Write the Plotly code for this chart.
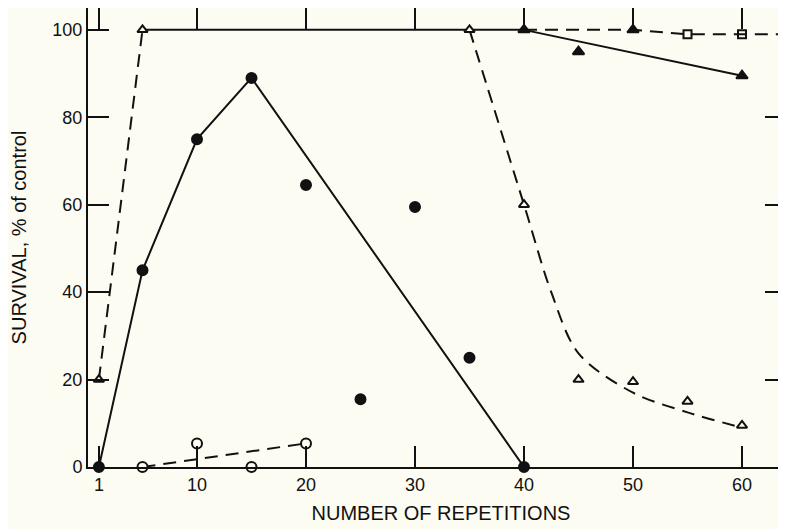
import plotly.graph_objects as go

BG = "#FDFCF3"
INK = "#111111"

# ---- data ----
circ_x = [1, 5, 10, 15, 20, 25, 30, 35, 40]
circ_y = [0, 45, 75, 89, 64.5, 15.5, 59.5, 25, 0]
circ_fit_x = [1, 5, 10, 15, 40]
circ_fit_y = [0, 45, 75, 89, 0]

otri_x = [1, 5, 35, 40, 45, 50, 55, 60]
otri_y = [20, 100, 100, 60, 20, 19.5, 15, 9.5]
otri_rise_x = [1, 5]
otri_rise_y = [20, 100]
plateau_x = [5, 35, 40]
plateau_y = [100, 100, 100]
decay_x = [35, 40, 42.5, 45, 50, 55, 60]
decay_y = [100, 60, 40, 26, 17, 12.5, 9]

ftri_x = [40, 45, 50, 60]
ftri_y = [100, 95, 100, 89.5]
ftri_fit_x = [40, 60]
ftri_fit_y = [100, 89.5]

sq_x = [55, 60]
sq_y = [99, 99]
sq_fit_x = [40, 50, 55, 60, 65]
sq_fit_y = [100, 100, 99, 99, 99]

ocirc_x = [5, 10, 15, 20]
ocirc_y = [0, 5.4, 0, 5.4]
ocirc_fit_x = [5, 20]
ocirc_fit_y = [0, 5.4]

x_ticks = [1, 10, 20, 30, 40, 50, 60]
y_ticks = [0, 20, 40, 60, 80, 100]
y_right_ticks = [20, 40, 60, 80]

DASH = "13px,8px"
LW = 2

fig = go.Figure()

def line(x, y, dash="solid", yaxis="y"):
    fig.add_trace(go.Scatter(x=x, y=y, mode="lines", yaxis=yaxis,
                             line=dict(color=INK, width=LW, dash=dash),
                             hoverinfo="skip", showlegend=False))

def line_spline(x, y, dash):
    fig.add_trace(go.Scatter(x=x, y=y, mode="lines",
                             line=dict(color=INK, width=LW, dash=dash, shape="spline", smoothing=0.9),
                             hoverinfo="skip", showlegend=False))

def marks(x, y, symbol, size, fill):
    fig.add_trace(go.Scatter(x=x, y=y, mode="markers", cliponaxis=False,
                             marker=dict(symbol=symbol, size=size, color=fill,
                                         line=dict(color=INK, width=2)),
                             showlegend=False))

# lines
line(circ_fit_x, circ_fit_y)
line(otri_rise_x, otri_rise_y, DASH)
line(plateau_x, plateau_y)
line_spline(decay_x, decay_y, DASH)
line(ftri_fit_x, ftri_fit_y)
line(sq_fit_x, sq_fit_y, DASH, yaxis="y2")
line(ocirc_fit_x, ocirc_fit_y, DASH)

# markers
marks(circ_x, circ_y, "circle", 10, INK)
marks(otri_x, otri_y, "triangle-up", 9, BG)
marks(ftri_x, ftri_y, "triangle-up", 10, INK)
marks(sq_x, sq_y, "square", 8, BG)
marks(ocirc_x, ocirc_y, "circle", 10, BG)

font = "Liberation Sans, Arial, Helvetica, sans-serif"

fig.update_layout(
    width=786, height=529,
    margin=dict(l=80, r=0, t=0, b=70),
    paper_bgcolor=BG, plot_bgcolor=BG,
    font=dict(family=font, color=INK, size=18),
    xaxis=dict(range=[0, 64.77], tickvals=x_ticks, ticktext=[str(v) for v in x_ticks],
               ticks="inside", ticklen=21, tickwidth=1.5, tickcolor=INK,
               showline=True, linecolor=INK, linewidth=2, mirror="ticks",
               showgrid=False, zeroline=False, tickfont=dict(size=18), automargin=False,
               title=dict(text="NUMBER OF REPETITIONS", font=dict(size=20), standoff=12)),
    yaxis=dict(range=[0, 105.0], tickvals=y_ticks, ticktext=[str(v) for v in y_ticks],
               ticks="inside", ticklen=21, tickwidth=1.5, tickcolor=INK,
               showline=True, linecolor=INK, linewidth=2,
               showgrid=False, zeroline=False, tickfont=dict(size=18), automargin=False,
               title=dict(text="SURVIVAL, % of control", font=dict(size=20), standoff=30)),
    yaxis2=dict(range=[0, 105.0], overlaying="y", side="right", tickvals=y_right_ticks,
                ticks="inside", ticklen=29, tickwidth=1.5, tickcolor=INK, automargin=False,
                showticklabels=False, showline=False, showgrid=False, zeroline=False),
)

fig.write_html("out.html")
